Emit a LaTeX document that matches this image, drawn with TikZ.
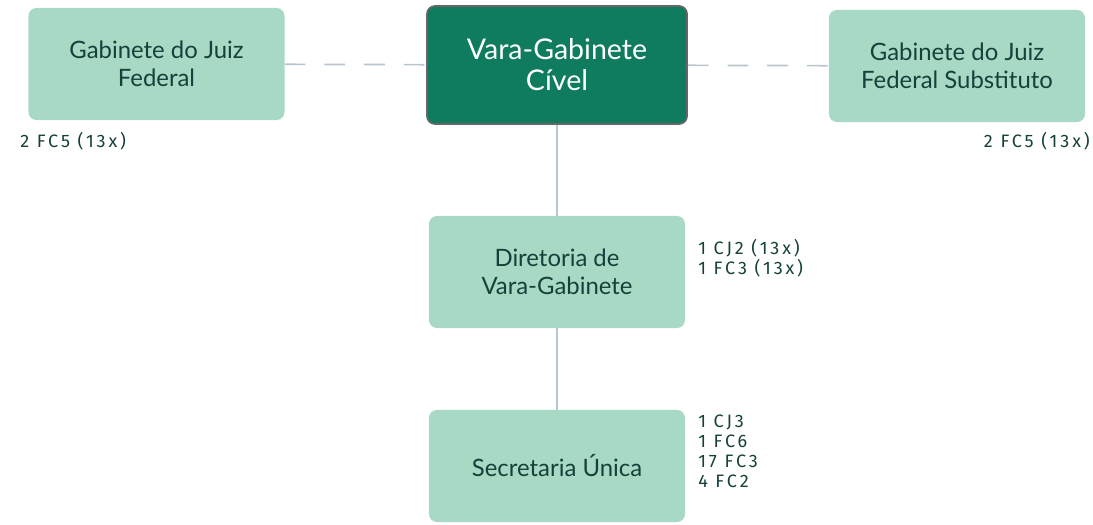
\documentclass[tikz,border=0pt]{standalone}
\usepackage{fontspec}
\setmainfont{Lato}
\newfontfamily\codefont[LetterSpace=16]{Fira Sans}
\usetikzlibrary{positioning}
\definecolor{boxgreen}{HTML}{A8D9C4}
\definecolor{darkgreen}{HTML}{0F7B5F}
\definecolor{inkgreen}{HTML}{16403A}
\definecolor{linegray}{HTML}{B9C5CC}

\begin{document}
\begin{tikzpicture}[x=0.025cm, y=-0.025cm,
    main/.style = {fill=boxgreen, rounded corners=0.2cm, minimum width=6.4cm, minimum height=2.8cm,
                   align=center, text=inkgreen, font=\fontsize{17}{20}\selectfont},
    top/.style  = {main, fill=darkgreen, draw=black!60, line width=1.2pt, text=white,
                   minimum width=6.5cm, minimum height=2.95cm, font=\fontsize{20.3}{22}\selectfont},
    code/.style = {align=left, text=inkgreen, inner sep=0pt, font=\codefont\fontsize{12.8}{14.2}\selectfont},
    link/.style = {draw=linegray, line width=1.2pt}]
    \useasboundingbox (0,0) rectangle (1093,525);

    \node[main] (juiz)   at (156.5,64) {Gabinete do Juiz\\Federal};
    \node[top]  (vara)   at (557,65)   {Vara-Gabinete\\Cível};
    \node[main] (subst)  at (957,66)   {Gabinete do Juiz\\Federal Substituto};
    \node[main] (dir)    at (557,272)  {Diretoria de\\Vara-Gabinete};
    \node[main] (sec)    at (557,466)  {Secretaria Única};

    \node[code, anchor=west] (juizfc)  at (20,141)   {2 FC5 (13x)};
    \node[code, anchor=east] (substfc) at (1090,141) {2 FC5 (13x)};
    \node[code, anchor=west] (dirfc)   at (698,258)  {1 CJ2 (13x)\\1 FC3 (13x)};
    \node[code, anchor=west] (secfc)   at (698,451)  {1 CJ3\\1 FC6\\17 FC3\\4 FC2};

    \path[link, dash pattern=on 14.7pt off 13.5pt]
    (juiz)  edge (vara)
    (vara)  edge (subst);
    \path[link]
    (vara)  edge (dir)
    (dir)   edge (sec);
\end{tikzpicture}
\end{document}
